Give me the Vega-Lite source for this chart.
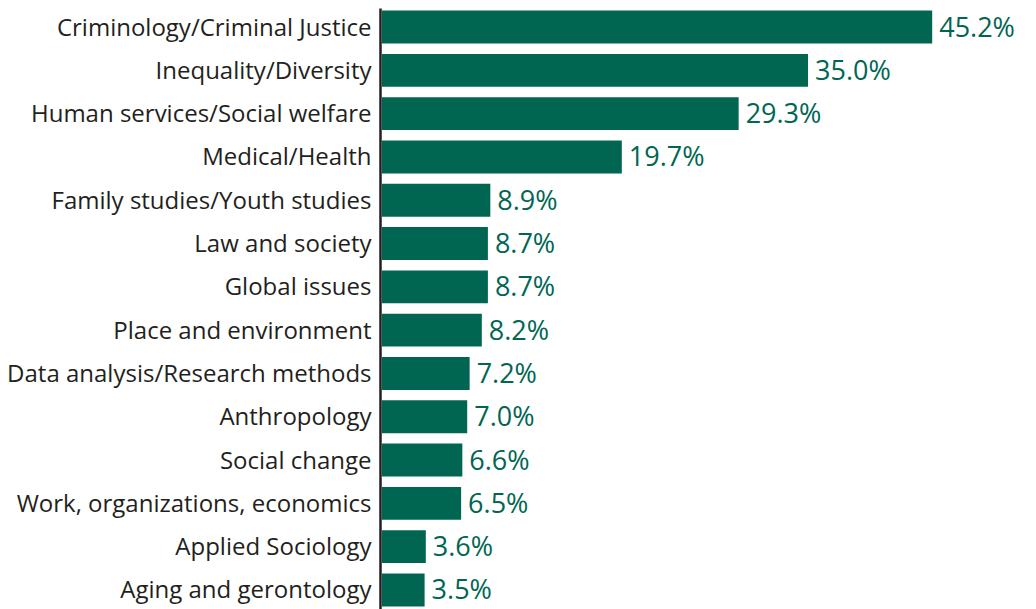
{
  "$schema": "https://vega.github.io/schema/vega-lite/v6.json",
  "width": 650,
  "height": 601,
  "autosize": {"type": "none"},
  "padding": {"left": 380, "top": 8, "right": 6, "bottom": 0},
  "background": "white",
  "data": {
    "values": [
      {"topic": "Criminology/Criminal Justice", "share": 0.452},
      {"topic": "Inequality/Diversity", "share": 0.350},
      {"topic": "Human services/Social welfare", "share": 0.293},
      {"topic": "Medical/Health", "share": 0.197},
      {"topic": "Family studies/Youth studies", "share": 0.089},
      {"topic": "Law and society", "share": 0.087},
      {"topic": "Global issues", "share": 0.087},
      {"topic": "Place and environment", "share": 0.082},
      {"topic": "Data analysis/Research methods", "share": 0.072},
      {"topic": "Anthropology", "share": 0.070},
      {"topic": "Social change", "share": 0.066},
      {"topic": "Work, organizations, economics", "share": 0.065},
      {"topic": "Applied Sociology", "share": 0.036},
      {"topic": "Aging and gerontology", "share": 0.035}
    ]
  },
  "encoding": {
    "y": {
      "field": "topic",
      "type": "nominal",
      "sort": null,
      "scale": {"paddingInner": 0.24, "paddingOuter": 0.06},
      "axis": {
        "title": null,
        "ticks": false,
        "domain": true,
        "domainColor": "#231f20",
        "domainWidth": 2.5,
        "labelFont": "Open Sans",
        "labelFontSize": 24,
        "labelColor": "#231f20",
        "labelPadding": 9,
        "labelOffset": 1.5,
        "labelLimit": 400
      }
    },
    "x": {
      "field": "share",
      "type": "quantitative",
      "scale": {"domain": [0, 0.534], "nice": false},
      "axis": null
    }
  },
  "layer": [
    {"mark": {"type": "bar", "color": "#006652", "xOffset": 2}},
    {
      "mark": {"type": "text", "align": "left", "baseline": "middle", "dx": 9, "dy": 1.5, "font": "Open Sans", "fontSize": 27, "color": "#006652"},
      "encoding": {"text": {"field": "share", "type": "quantitative", "format": ".1%"}}
    }
  ],
  "config": {"view": {"stroke": null}}
}
